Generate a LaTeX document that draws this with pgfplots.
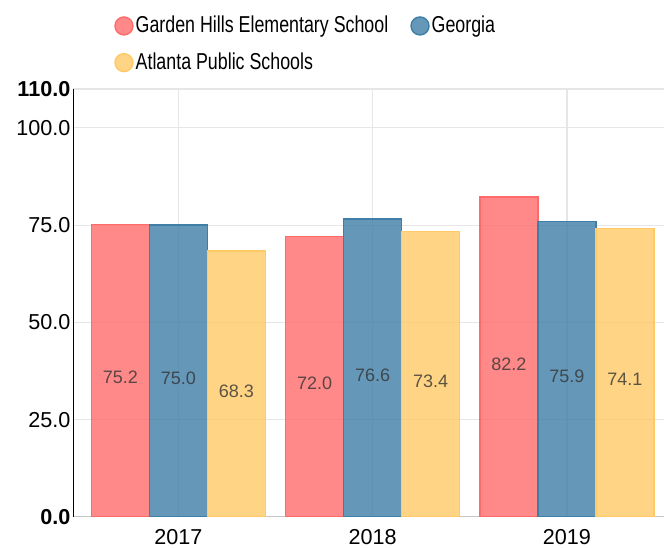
\documentclass[border=0pt]{standalone}
\usepackage{pgfplots}
\pgfplotsset{compat=1.18}
\usepackage{fontspec}
\setmainfont{Liberation Sans}
\newfontfamily\legendfont[FakeStretch=0.775]{Liberation Sans}
\definecolor{ghred}{HTML}{FF6B6B}
\definecolor{gablue}{HTML}{3F7EA6}
\definecolor{apsyellow}{HTML}{FFC966}
\definecolor{gridgray}{HTML}{E6E6E6}
\definecolor{labelgray}{HTML}{333333}

\begin{document}
\begin{tikzpicture}
\begin{axis}[
  name=ax,
  scale only axis,
  width=295.5pt,
  height=213.9pt,
  ybar=0pt,
  bar width=29pt,
  xmin=-0.543, xmax=2.5,
  ymin=0, ymax=110,
  xtick={0,1,2},
  xticklabels={2017,2018,2019},
  ytick={0,25,50,75,100,110},
  yticklabels={\textbf{0.0},25.0,50.0,75.0,100.0,\textbf{110.0}},
  tick label style={font=\fontsize{10.8}{12}\selectfont},
  major tick length=0pt,
  xticklabel style={yshift=-3pt},
  yticklabel style={xshift=2.2pt},
  grid=major,
  grid style={gridgray, line width=0.6pt},
  axis x line*=bottom,
  axis y line*=left,
  x axis line style={gray!45, -},
  y axis line style={black, -},
  legend columns=2,
  legend cell align=left,
  legend style={draw=none, fill=none, at={(0.059,1.19)}, anchor=north west,
    font=\legendfont\fontsize{11.5}{13}\selectfont, row sep=4.5pt,
    nodes={inner xsep=1pt},
    /tikz/every even column/.append style={column sep=10pt}},
  visualization depends on={rawy \as \rawy},
  nodes near coords={\pgfmathprintnumber[fixed,fixed zerofill,precision=1,assume math mode=true]{\pgfplotspointmeta}},
  every node near coord/.append style={font=\fontsize{9}{10}\selectfont, color=labelgray,
    anchor=center, yshift={-(\rawy/2+1.8)*1.9445}},
]
\addplot[draw=ghred, fill=ghred, fill opacity=0.8, line width=0.7pt, bar shift=-29pt,
  legend image code/.code={\fill[ghred] (0pt,0pt) circle (4.5pt);}]
  coordinates {(0,75.2) (1,72.0) (2,82.2)};
\addlegendentry{Garden Hills Elementary School}
\addplot[draw=gablue, fill=gablue, fill opacity=0.8, line width=0.7pt, bar shift=0pt,
  legend image code/.code={\fill[gablue] (0pt,0pt) circle (4.5pt);}]
  coordinates {(0,75.0) (1,76.6) (2,75.9)};
\addlegendentry{Georgia}
\addplot[draw=apsyellow, fill=apsyellow, fill opacity=0.8, line width=0.7pt, bar shift=29pt,
  legend image code/.code={\fill[apsyellow] (0pt,0pt) circle (4.5pt);}]
  coordinates {(0,68.3) (1,73.4) (2,74.1)};
\addlegendentry{Atlanta Public Schools}
\end{axis}
\pgfresetboundingbox
\path ([xshift=-36.5pt, yshift=-15.15pt]ax.south west) rectangle ([yshift=44.5pt]ax.north east);
\end{tikzpicture}
\end{document}
